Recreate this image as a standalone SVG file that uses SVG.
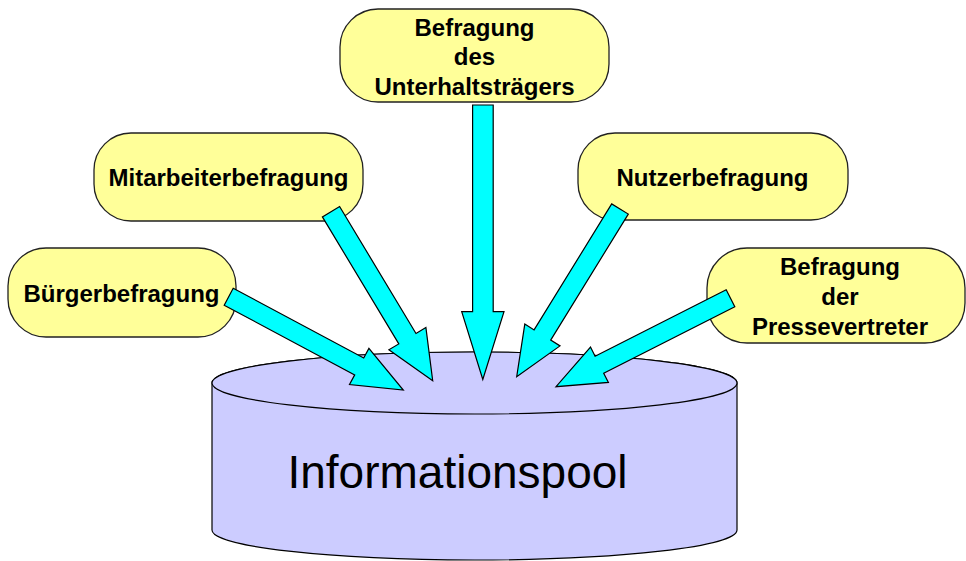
<svg xmlns="http://www.w3.org/2000/svg" width="966" height="561" viewBox="0 0 966 561">
<defs>
<style>
.box{fill:#FFFF99;stroke:#222;stroke-width:1.3}
.lbl{font-family:"Liberation Sans",Arial,sans-serif;font-weight:bold;font-size:24px;fill:#000;text-anchor:middle}
.arr{fill:#00FFFF;stroke:#000;stroke-width:1.2;stroke-linejoin:miter}
.cyl{fill:#CCCCFF;stroke:#000;stroke-width:1.2}
</style>
</defs>
<rect width="966" height="561" fill="#fff"/>
<g id="informationspool">
<path class="cyl" d="M212,383 L212,530 A262.5,30 0 0 0 737,530 L737,383 A262.5,31 0 0 0 212,383 Z"/>
<ellipse class="cyl" cx="474.5" cy="383" rx="262.5" ry="31"/>
<text x="457.5" y="488" style="font-family:'Liberation Sans',Arial,sans-serif;font-size:46px;fill:#000;text-anchor:middle">Informationspool</text>
</g>
<g id="buergerbefragung">
<rect class="box" x="8" y="248" width="228" height="89" rx="38" ry="38"/>
<text class="lbl" x="121.5" y="301.5">Bürgerbefragung</text>
</g>
<g id="mitarbeiterbefragung">
<rect class="box" x="94" y="133" width="269" height="88" rx="37" ry="37"/>
<text class="lbl" x="228.5" y="185.5">Mitarbeiterbefragung</text>
</g>
<g id="unterhaltstraeger">
<rect class="box" x="340" y="9" width="269" height="93" rx="38" ry="38"/>
<text class="lbl" x="474.5" y="36">Befragung</text>
<text class="lbl" x="474.5" y="65">des</text>
<text class="lbl" x="474.5" y="94.5">Unterhaltsträgers</text>
</g>
<g id="nutzerbefragung">
<rect class="box" x="578" y="133" width="270" height="87" rx="37" ry="37"/>
<text class="lbl" x="712.5" y="185.5">Nutzerbefragung</text>
</g>
<g id="pressevertreter">
<rect class="box" x="707" y="248" width="258" height="95" rx="40" ry="40"/>
<text class="lbl" x="840" y="275">Befragung</text>
<text class="lbl" x="840" y="305">der</text>
<text class="lbl" x="840" y="335">Pressevertreter</text>
</g>
<g id="connectors">
<polygon class="arr" points="233.2,288.2 363.7,358.0 368.9,348.4 403.3,390 349.5,384.5 354.7,374.9 224.2,305.2"/>
<polygon class="arr" points="339.6,206.5 416.0,333.5 425.9,327.6 432.7,380.7 388.9,349.8 398.8,343.9 322.4,216.9"/>
<polygon class="arr" points="472.6,105 472.6,311.7 461.7,311.7 482.8,379.5 504,311.7 493.2,311.7 493.2,105"/>
<polygon class="arr" points="611.7,203.9 534.1,329.9 524.8,324.1 516.7,376.7 560.0,345.9 550.7,340.1 628.3,214.1"/>
<polygon class="arr" points="726.2,289.8 595.1,356.2 590.5,347.0 556,386.7 608.4,382.4 603.7,373.2 734.8,306.8"/>
</g>
</svg>
